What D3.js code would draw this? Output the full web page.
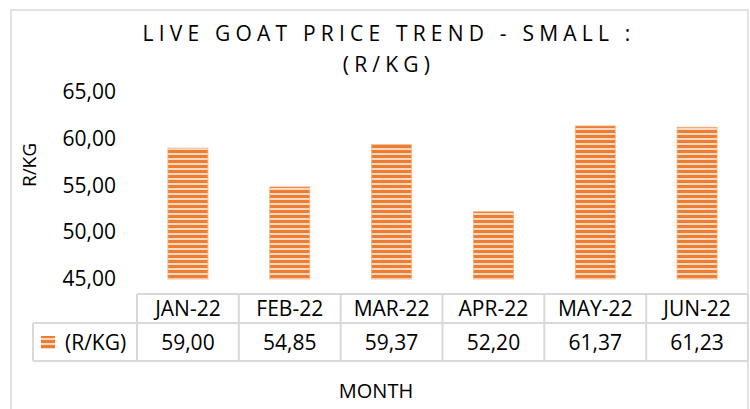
<!DOCTYPE html>
<html>
<head>
<meta charset="utf-8">
<script src="https://cdn.jsdelivr.net/npm/d3@7"></script>
<style>
  body { margin: 0; background: #fff; }
  svg text { font-family: "Open Sans", "Noto Sans", sans-serif; fill: #000; }
</style>
</head>
<body>
<div id="chart"></div>
<script>
// data
const months = ["JAN-22", "FEB-22", "MAR-22", "APR-22", "MAY-22", "JUN-22"];
const prices = [59.00, 54.85, 59.37, 52.20, 61.37, 61.23];
const yTicks = [45, 50, 55, 60, 65];
const seriesName = "(R/KG)";

const width = 750, height = 409;
const fmt = v => d3.format(".2f")(v).replace(".", ",");

const svg = d3.select("#chart").append("svg")
  .attr("width", width)
  .attr("height", height);

// striped fill like the excel pattern
const defs = svg.append("defs");
const pat = defs.append("pattern")
  .attr("id", "stripes")
  .attr("patternUnits", "userSpaceOnUse")
  .attr("width", 8).attr("height", 5);
pat.append("rect").attr("width", 8).attr("height", 5).attr("fill", "#fbd9c2");
pat.append("rect").attr("y", 0).attr("width", 8).attr("height", 3).attr("fill", "#ed7d31");

// outer chart border
svg.append("rect")
  .attr("x", 11).attr("y", 10)
  .attr("width", 737).attr("height", 410)
  .attr("fill", "none")
  .attr("stroke", "#d9d9d9")
  .attr("stroke-width", 1.5);

// title
const titleStyle = sel => sel
  .attr("text-anchor", "middle")
  .style("font-size", "21px")
  .style("letter-spacing", "5.2px");
svg.append("text")
  .attr("x", 389).attr("y", 41)
  .call(titleStyle)
  .text("LIVE GOAT PRICE TREND - SMALL :");
svg.append("text")
  .attr("x", 389).attr("y", 72)
  .call(titleStyle)
  .text("(R/KG)");

const tableLeft = 137, tableRight = 748;
const x = d3.scaleBand()
  .domain(months)
  .range([tableLeft, tableRight])
  .paddingInner(0)
  .paddingOuter(0);

const y = d3.scaleLinear()
  .domain([45, 65])
  .range([279, 92]);

// y axis labels
const yAxis = svg.append("g")
  .attr("transform", "translate(116,0)")
  .call(d3.axisLeft(y).tickValues(yTicks).tickFormat(fmt).tickSize(0).tickPadding(0));
yAxis.select(".domain").remove();
yAxis.selectAll("text")
  .style("font-size", "21px")
  .style("font-family", "'Open Sans', sans-serif");

svg.append("text")
  .attr("transform", "translate(36,165) rotate(-90)")
  .attr("text-anchor", "middle")
  .style("font-size", "19px")
  .text("R/KG");

// bars
const barW = 40;
svg.append("g").selectAll("rect")
  .data(prices)
  .join("rect")
  .attr("x", (d, i) => x(months[i]) + x.bandwidth() / 2 - barW / 2)
  .attr("y", d => y(d))
  .attr("width", barW)
  .attr("height", d => y(45) - y(d))
  .attr("fill", "url(#stripes)")
  .attr("stroke", "#f4b183")
  .attr("stroke-width", 0.8);

// data table
const rowTop = 294, rowMid = 323, rowBot = 361, legLeft = 33;
const grid = svg.append("g")
  .attr("stroke", "#d9d9d9")
  .attr("stroke-width", 2)
  .attr("fill", "none");
grid.append("line").attr("x1", tableLeft).attr("x2", tableRight).attr("y1", rowTop).attr("y2", rowTop);
grid.append("line").attr("x1", legLeft).attr("x2", tableRight).attr("y1", rowMid).attr("y2", rowMid);
grid.append("line").attr("x1", legLeft).attr("x2", tableRight).attr("y1", rowBot).attr("y2", rowBot);
grid.append("line").attr("x1", legLeft).attr("x2", legLeft).attr("y1", rowMid).attr("y2", rowBot);
grid.selectAll(".vline")
  .data(months.map(m => x(m)).concat([tableRight]))
  .join("line")
  .attr("x1", d => d).attr("x2", d => d)
  .attr("y1", rowTop).attr("y2", rowBot);

svg.append("g").selectAll("text")
  .data(months)
  .join("text")
  .attr("x", d => x(d) + x.bandwidth() / 2)
  .attr("y", 316)
  .attr("text-anchor", "middle")
  .style("font-size", "21px")
  .text(d => d);

svg.append("g").selectAll("text")
  .data(prices)
  .join("text")
  .attr("x", (d, i) => x(months[i]) + x.bandwidth() / 2)
  .attr("y", 350)
  .attr("text-anchor", "middle")
  .style("font-size", "21px")
  .text(d => fmt(d));

// legend key
svg.append("rect")
  .attr("x", 41).attr("y", 336)
  .attr("width", 14).attr("height", 13)
  .attr("fill", "url(#stripes)");
svg.append("text")
  .attr("x", 65).attr("y", 350)
  .style("font-size", "21px")
  .text(seriesName);

// x axis title
svg.append("text")
  .attr("x", 376).attr("y", 398)
  .attr("text-anchor", "middle")
  .style("font-size", "20px")
  .text("MONTH");
</script>
</body>
</html>
